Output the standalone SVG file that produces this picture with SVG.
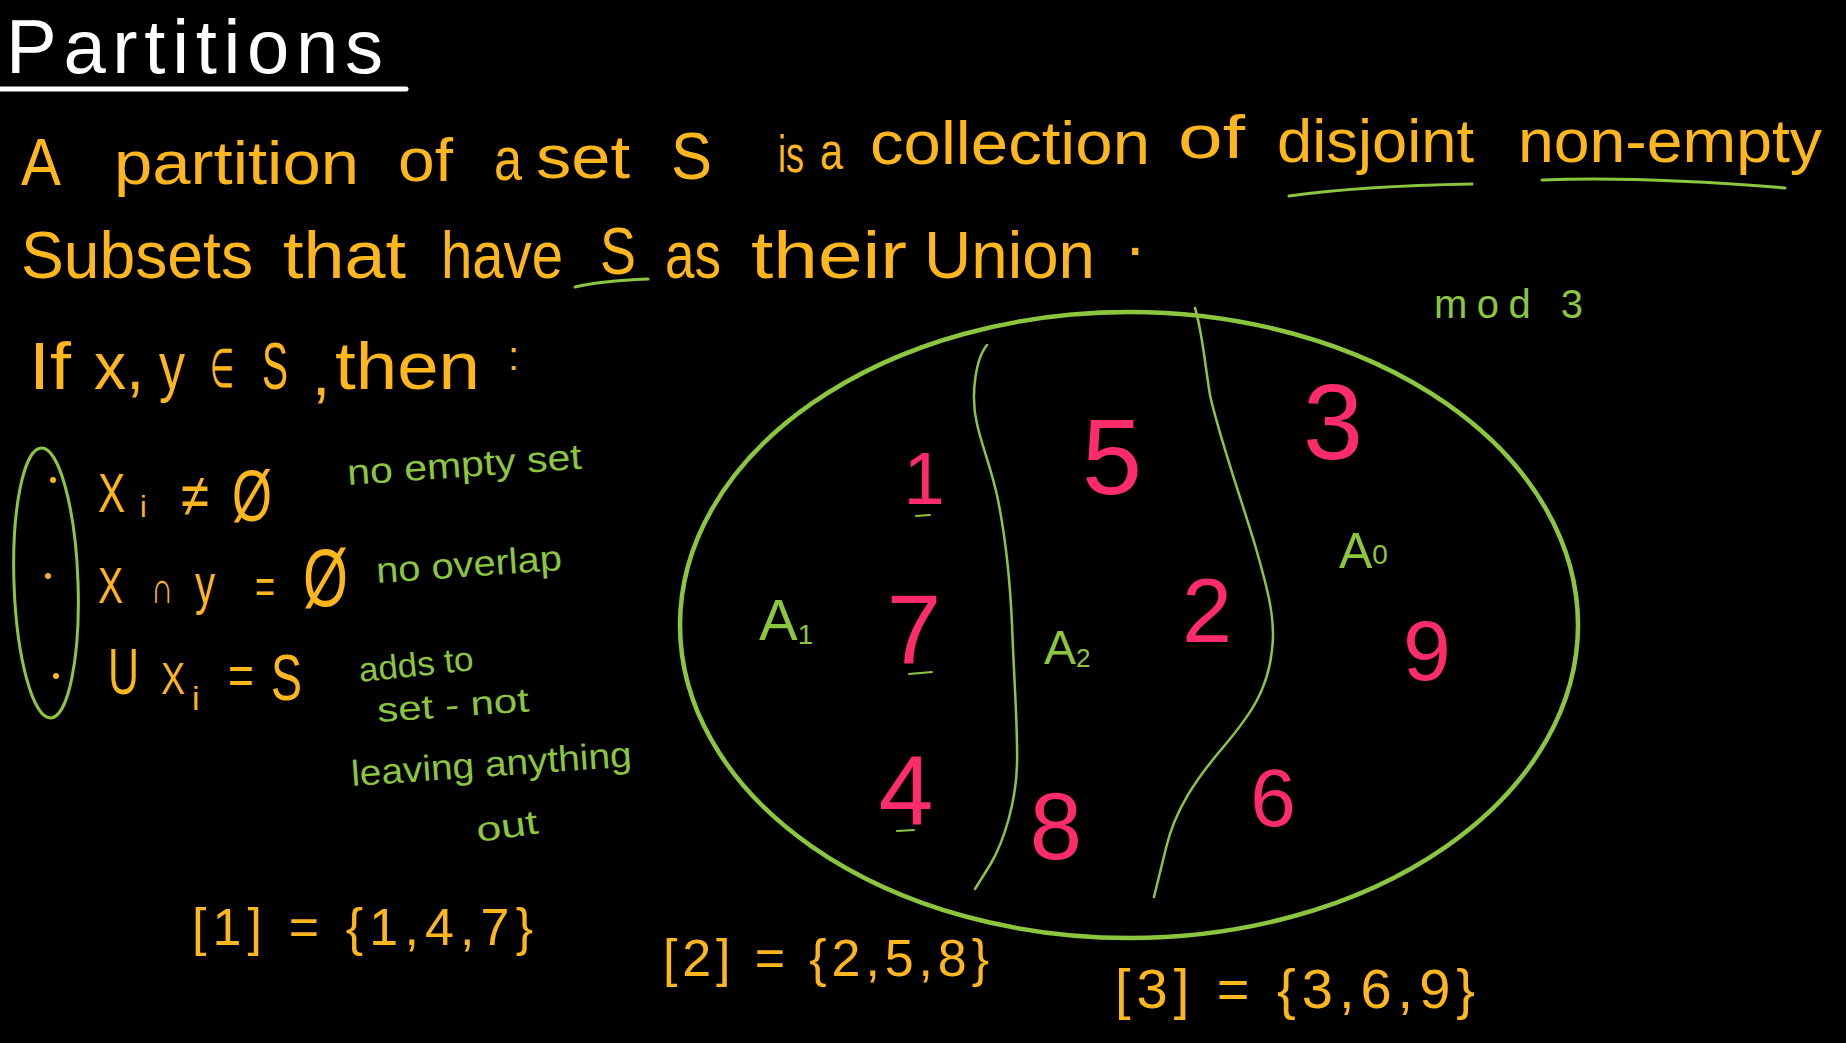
<svg xmlns="http://www.w3.org/2000/svg" width="1846" height="1043" viewBox="0 0 1846 1043">
<style>
text{font-family:"Liberation Sans",Arial,sans-serif}
.w{fill:#ffffff}
.o{fill:#FDB61C}
.g{fill:#8CC63F}
.r{fill:#FF2B6A;text-anchor:middle}
.gs{fill:none;stroke:#8CC63F;stroke-linecap:round;stroke-linejoin:round}
</style>
<rect x="0" y="0" width="1846" height="1043" fill="#000000"/>

<g id="title">
<text class="w" x="6" y="73" font-size="76" textLength="377" lengthAdjust="spacing">Partitions</text>
<line x1="0" y1="89" x2="406" y2="89" stroke="#ffffff" stroke-width="5" stroke-linecap="round"/>
</g>

<g id="definition" font-size="62">
<text class="o" x="21" y="185" font-size="66" textLength="40" lengthAdjust="spacingAndGlyphs">A</text>
<text class="o" x="114" y="184" textLength="245" lengthAdjust="spacingAndGlyphs">partition</text>
<text class="o" x="398" y="181" textLength="55" lengthAdjust="spacingAndGlyphs">of</text>
<text class="o" x="494" y="180" textLength="28" lengthAdjust="spacingAndGlyphs">a</text>
<text class="o" x="536" y="178" textLength="94" lengthAdjust="spacingAndGlyphs">set</text>
<text class="o" x="671" y="179" font-size="66" textLength="41" lengthAdjust="spacingAndGlyphs">S</text>
<text class="o" x="778" y="172" font-size="52" textLength="26" lengthAdjust="spacingAndGlyphs">is</text>
<text class="o" x="820" y="169" font-size="52" textLength="23" lengthAdjust="spacingAndGlyphs">a</text>
<text class="o" x="870" y="164" textLength="280" lengthAdjust="spacingAndGlyphs">collection</text>
<text class="o" x="1178" y="158" textLength="67" lengthAdjust="spacingAndGlyphs">of</text>
<text class="o" x="1277" y="162" textLength="197" lengthAdjust="spacingAndGlyphs">disjoint</text>
<text class="o" x="1518" y="162" textLength="304" lengthAdjust="spacingAndGlyphs">non-empty</text>

<text class="o" x="21" y="278" font-size="66" textLength="232" lengthAdjust="spacingAndGlyphs">Subsets</text>
<text class="o" x="283" y="278" font-size="66" textLength="123" lengthAdjust="spacingAndGlyphs">that</text>
<text class="o" x="441" y="278" font-size="66" textLength="122" lengthAdjust="spacingAndGlyphs">have</text>
<text class="o" x="600" y="274" font-size="66" textLength="36" lengthAdjust="spacingAndGlyphs">S</text>
<text class="o" x="665" y="278" font-size="66" textLength="56" lengthAdjust="spacingAndGlyphs">as</text>
<text class="o" x="751" y="278" font-size="66" textLength="156" lengthAdjust="spacingAndGlyphs">their</text>
<text class="o" x="924" y="278" font-size="66" textLength="171" lengthAdjust="spacingAndGlyphs">Union</text>
<text class="o" x="1126" y="255" font-size="66">.</text>

<path class="gs" stroke-width="3" d="M1289,196 Q1360,186 1472,184"/>
<path class="gs" stroke-width="3" d="M1542,180 Q1640,176 1785,188"/>
<path class="gs" stroke-width="3" d="M575,287 Q600,281 648,279"/>
</g>

<g id="condition" font-size="66">
<text class="o" x="29" y="389" textLength="42" lengthAdjust="spacingAndGlyphs">If</text>
<text class="o" x="94" y="389" textLength="50" lengthAdjust="spacingAndGlyphs">x,</text>
<text class="o" x="159" y="389" textLength="26" lengthAdjust="spacingAndGlyphs">y</text>
<text class="o" x="210" y="387" font-size="54" textLength="24" lengthAdjust="spacingAndGlyphs">∈</text>
<text class="o" x="262" y="389" textLength="26" lengthAdjust="spacingAndGlyphs">S</text>
<text class="o" x="312" y="395">,</text>
<text class="o" x="335" y="389" textLength="145" lengthAdjust="spacingAndGlyphs">then</text>
<text class="o" x="508" y="370" font-size="40">:</text>
</g>

<g id="properties">
<ellipse class="gs" stroke-width="3" cx="46" cy="583" rx="32" ry="135" transform="rotate(-2 46 583)"/>
<circle cx="53" cy="480" r="3" fill="#FDB61C"/>
<circle cx="48" cy="576" r="3" fill="#FDB61C"/>
<circle cx="56" cy="676" r="3" fill="#FDB61C"/>

<text class="o" x="98" y="512" font-size="56" textLength="27" lengthAdjust="spacingAndGlyphs">X</text>
<text class="o" x="140" y="517" font-size="30">i</text>
<text class="o" x="181" y="516" font-size="60" textLength="28" lengthAdjust="spacingAndGlyphs">≠</text>
<text class="o" x="232" y="521" font-size="72" textLength="40" lengthAdjust="spacingAndGlyphs">Ø</text>

<text class="o" x="98" y="603" font-size="50" textLength="25" lengthAdjust="spacingAndGlyphs">X</text>
<text class="o" x="151" y="603" font-size="44" textLength="22" lengthAdjust="spacingAndGlyphs">∩</text>
<text class="o" x="195" y="603" font-size="56" textLength="20" lengthAdjust="spacingAndGlyphs">y</text>
<text class="o" x="255" y="603" font-size="50" textLength="20" lengthAdjust="spacingAndGlyphs">=</text>
<text class="o" x="303" y="606" font-size="82" textLength="45" lengthAdjust="spacingAndGlyphs">Ø</text>

<text class="o" x="108" y="694" font-size="64" textLength="31" lengthAdjust="spacingAndGlyphs">U</text>
<text class="o" x="161" y="694" font-size="44" textLength="24" lengthAdjust="spacingAndGlyphs">X</text>
<text class="o" x="192" y="710" font-size="34">i</text>
<text class="o" x="228" y="694" font-size="56" textLength="26" lengthAdjust="spacingAndGlyphs">=</text>
<text class="o" x="271" y="700" font-size="64" textLength="31" lengthAdjust="spacingAndGlyphs">S</text>

<text class="g" x="348" y="485" font-size="36" textLength="235" lengthAdjust="spacingAndGlyphs" transform="rotate(-4 348 485)">no empty set</text>
<text class="g" x="377" y="583" font-size="36" textLength="186" lengthAdjust="spacingAndGlyphs" transform="rotate(-4 377 583)">no overlap</text>
<text class="g" x="360" y="682" font-size="34" textLength="115" lengthAdjust="spacingAndGlyphs" transform="rotate(-6 360 682)">adds to</text>
<text class="g" x="378" y="722" font-size="34" textLength="152" lengthAdjust="spacingAndGlyphs" transform="rotate(-4 378 722)">set - not</text>
<text class="g" x="352" y="786" font-size="36" textLength="281" lengthAdjust="spacingAndGlyphs" transform="rotate(-4 352 786)">leaving anything</text>
<text class="g" x="478" y="842" font-size="34" textLength="62" lengthAdjust="spacingAndGlyphs" transform="rotate(-8 478 842)">out</text>
</g>

<g id="classes">
<text class="o" x="192" y="945" font-size="52" textLength="341" lengthAdjust="spacing">[1] = {1,4,7}</text>
<text class="o" x="663" y="976" font-size="52" textLength="326" lengthAdjust="spacing">[2] = {2,5,8}</text>
<text class="o" x="1115" y="1008" font-size="56" textLength="360" lengthAdjust="spacing">[3] = {3,6,9}</text>
</g>

<g id="mod3">
<text class="g" x="1434" y="318" font-size="40" textLength="149" lengthAdjust="spacing">mod 3</text>
</g>

<g id="set-S">
<ellipse class="gs" stroke-width="4.5" cx="1129" cy="625" rx="449" ry="313"/>
<path class="gs" stroke-width="2.5" d="M987,345 C976,358 970,395 977,424 C983,450 992,470 998,500 C1006,540 1010,580 1012,624 C1014,680 1018,730 1017,765 C1016,800 1005,840 990,865 L975,889"/>
<path class="gs" stroke-width="2.5" d="M1195,308 C1202,330 1205,365 1210,395 C1220,440 1240,495 1255,545 C1268,590 1276,620 1272,650 C1268,690 1250,715 1225,745 C1195,780 1175,810 1166,848 L1154,897"/>
<path class="gs" stroke-width="2" d="M916,516 L930,515"/>
<path class="gs" stroke-width="2" d="M909,674 L932,672"/>
<path class="gs" stroke-width="2" d="M897,831 L914,830"/>
</g>

<g id="A1"><text class="g" x="759" y="640" font-size="58">A<tspan font-size="28" dy="4">1</tspan></text></g>
<g id="A2"><text class="g" x="1044" y="664" font-size="48">A<tspan font-size="26" dy="3">2</tspan></text></g>
<g id="A0"><text class="g" x="1339" y="568" font-size="50">A<tspan font-size="28" dy="-4">0</tspan></text></g>

<g id="numbers">
<text class="r" x="924" y="504" font-size="74">1</text>
<text class="r" x="1112" y="494" font-size="108">5</text>
<text class="r" x="1333" y="459" font-size="108">3</text>
<text class="r" x="914" y="663" font-size="98">7</text>
<text class="r" x="1207" y="642" font-size="90">2</text>
<text class="r" x="1427" y="680" font-size="86">9</text>
<text class="r" x="906" y="824" font-size="98">4</text>
<text class="r" x="1056" y="859" font-size="94">8</text>
<text class="r" x="1273" y="826" font-size="82">6</text>
</g>
</svg>
